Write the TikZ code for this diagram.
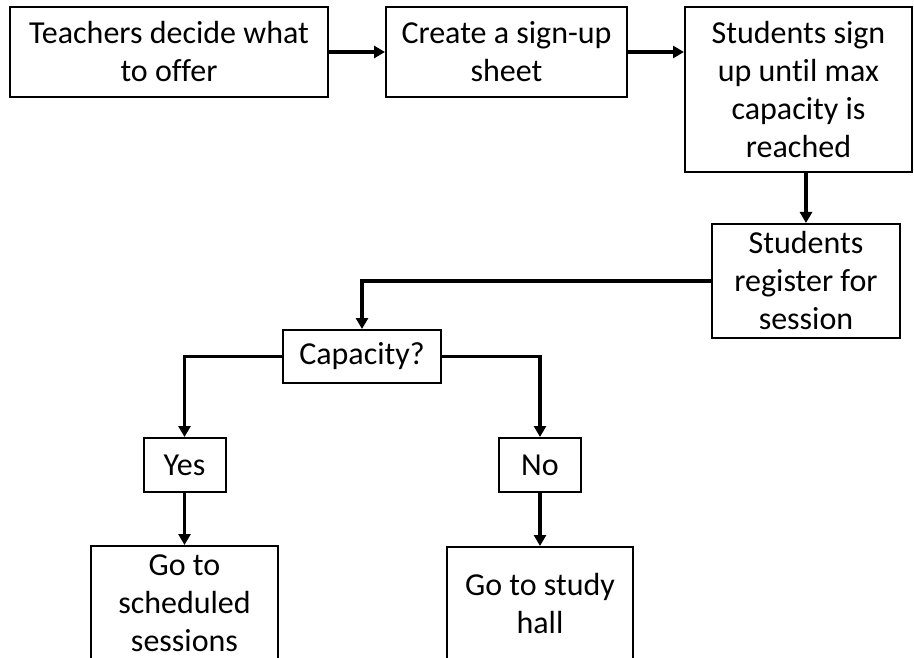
\documentclass[tikz,border=0pt]{standalone}
\usepackage{fontspec}
\setmainfont{Carlito}[Ligatures=NoCommon]
\usetikzlibrary{arrows.meta}
\begin{document}
\begin{tikzpicture}[x=1pt,y=-1pt,
  flowbox/.style={draw=black,line width=2pt,rectangle,inner sep=0pt,align=center,
    font=\fontsize{32}{38}\selectfont},
  flowarrow/.style={line width=3.5pt,-{Triangle[length=11pt,width=12pt]}}]
\useasboundingbox (0,0) rectangle (914,658);
\clip (0,0) rectangle (914,658);
\fill[white] (0,0) rectangle (914,658);

\node[flowbox,minimum width=318pt,minimum height=90pt] (teach) at (169,52)
  {Teachers decide what\\to offer};
\node[flowbox,minimum width=241pt,minimum height=90pt] (sheet) at (506.5,52)
  {Create a sign-up\\sheet};
\node[flowbox,minimum width=227pt,minimum height=165pt] (signup) at (798.5,89.5)
  {Students sign\\up until max\\capacity is\\reached};
\node[flowbox,minimum width=188pt,minimum height=114pt] (register) at (806,281)
  {Students\\register for\\session};
\node[flowbox,minimum width=158pt,minimum height=53pt] (cap) at (362,356.5)
  {Capacity?};
\node[flowbox,minimum width=82pt,minimum height=54pt] (yes) at (184.5,465) {Yes};
\node[flowbox,minimum width=82pt,minimum height=54pt] (no) at (540,465) {No};
\node[flowbox,minimum width=187pt,minimum height=114pt] (sched) at (184.5,603)
  {Go to\\scheduled\\sessions};
\node[flowbox,minimum width=186pt,minimum height=114pt] (hall) at (540,604)
  {Go to study\\hall};

\draw[flowarrow] (teach.east) -- (sheet.west);
\draw[flowarrow] (sheet.east) -- (sheet.east -| signup.west);
\draw[flowarrow] (register.north |- signup.south) -- (register.north);
\draw[flowarrow] (register.west) -| (cap.north);
\draw[flowarrow] (cap.west) -| (yes.north);
\draw[flowarrow] (cap.east) -| (no.north);
\draw[flowarrow] (yes.south) -- (sched.north);
\draw[flowarrow] (no.south) -- (hall.north);
\end{tikzpicture}
\end{document}
